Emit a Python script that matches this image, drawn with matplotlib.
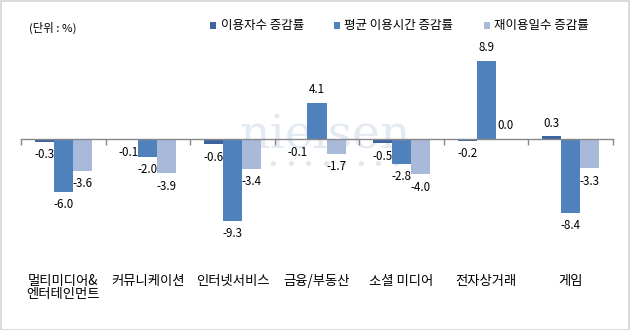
import matplotlib
matplotlib.use("Agg")
import matplotlib.pyplot as plt
import numpy as np
from matplotlib.patches import Rectangle

plt.rcParams['font.family'] = ['Noto Sans CJK KR', 'DejaVu Sans']

categories = ["멀티미디어&\n엔터테인먼트", "커뮤니케이션", "인터넷서비스", "금융/부동산",
              "소셜 미디어", "전자상거래", "게임"]
series_names = ["이용자수 증감률", "평균 이용시간 증감률", "재이용일수 증감률"]
users = [-0.3, -0.1, -0.6, -0.1, -0.5, -0.2, 0.3]
avg_time = [-6.0, -2.0, -9.3, 4.1, -2.8, 8.9, -8.4]
revisit = [-3.6, -3.9, -3.4, -1.7, -4.0, 0.0, -3.3]
colors = ["#3C64A0", "#4F81BD", "#A9B9D9"]

W, H = 630, 330
fig = plt.figure(figsize=(W / 100, H / 100), dpi=100)
fig.patch.set_facecolor("white")
fig.add_artist(Rectangle((0.5 / W, 0.5 / H), 1 - 1.5 / W, 1 - 1.5 / H, transform=fig.transFigure,
                         fill=False, edgecolor="#d4d4d4", linewidth=1.2))

ax_left, ax_right = 21, 613
ax_top, ax_bot = 40, 260
ax = fig.add_axes([ax_left / W, 1 - ax_bot / H, (ax_right - ax_left) / W, (ax_bot - ax_top) / H])
ax.set_facecolor("none")

zero_px = 139
scale = 8.8
ax.set_ylim(-(ax_bot - zero_px) / scale, (zero_px - ax_top) / scale)
n = len(categories)
ax.set_xlim(-0.5, n - 0.5)

def ax_x(px):
    return (px - ax_left) / (ax_right - ax_left)

def ax_y(py):
    return (ax_bot - py) / (ax_bot - ax_top)

# watermark
ax.text(ax_x(325), ax_y(147), "nielsen", transform=ax.transAxes, ha="center", va="baseline",
        family="DejaVu Serif", fontsize=34, color="#e3eaf2", zorder=0)
dot_px = np.arange(8)
ax.scatter([ax_x(273 + 17.5 * d) for d in dot_px], [ax_y(163)] * len(dot_px),
           transform=ax.transAxes, s=14, color="#e6e6e6", linewidths=0, zorder=0)

x = np.arange(n)
bw = 0.225
all_series = [users, avg_time, revisit]
for i, (vals, name, c) in enumerate(zip(all_series, series_names, colors)):
    xs = x + (i - 1) * bw
    ax.bar(xs, vals, width=bw, color=c, label=name, zorder=3, linewidth=0)
    for xi, v in zip(xs, vals):
        off = 13 if v >= 0 else -13
        ax.annotate(f"{v:.1f}", (xi, v), xytext=(0, off * 0.72), textcoords="offset points",
                    ha="center", va="center", fontsize=8.3, color="#000000", zorder=5)

for s in ["top", "right", "left"]:
    ax.spines[s].set_visible(False)
ax.spines["bottom"].set_position(("data", 0))
ax.spines["bottom"].set_color("#888888")
ax.spines["bottom"].set_linewidth(1.0)
ax.spines["bottom"].set_zorder(4)
ax.set_yticks([])
ax.set_xticks(x)
ax.set_xticklabels(categories, fontsize=9.6, linespacing=0.95)
ax.set_xticks(np.arange(n + 1) - 0.5, minor=True)
ax.tick_params(axis="x", which="major", length=0, pad=97)
ax.tick_params(axis="x", which="minor", length=4, width=1, color="#888888", direction="out")

fig.text(29 / W, 1 - 28 / H, "(단위 : %)", fontsize=8.2, ha="left", va="center")

fig.legend(loc="center left", bbox_to_anchor=(210 / W, 1 - 26 / H), ncol=3, frameon=False,
           fontsize=9.0, handlelength=0.5, handleheight=0.5, handletextpad=0.35,
           columnspacing=2.4, borderaxespad=0, borderpad=0)

fig.savefig("out.png", dpi=100)
